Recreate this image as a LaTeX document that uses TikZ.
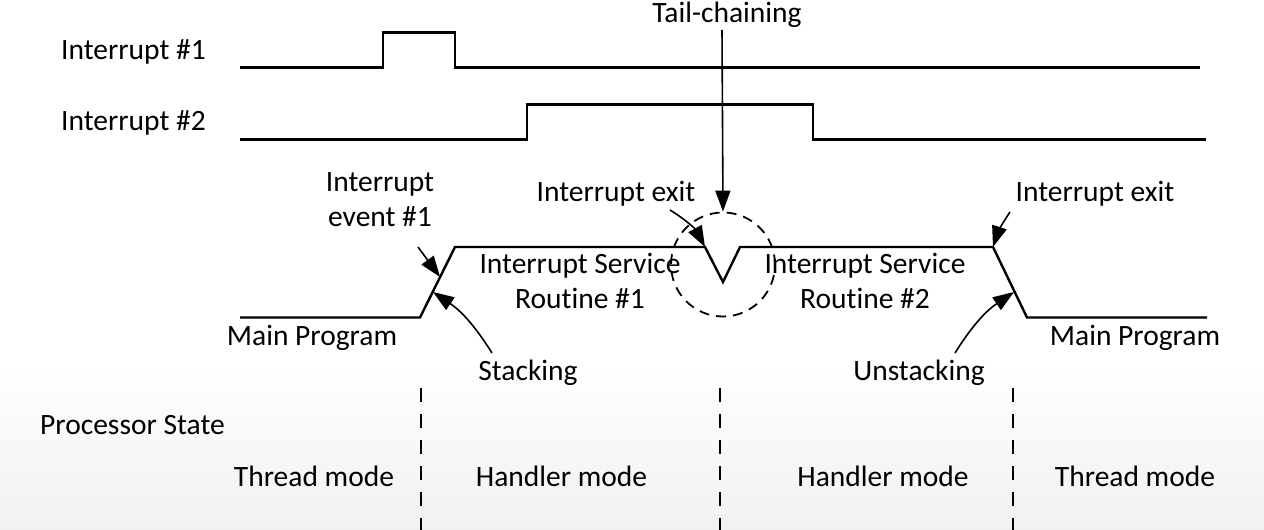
\documentclass[tikz,border=0pt]{standalone}
\usepackage{fontspec}
\setmainfont{Carlito}[Ligatures=NoCommon]
\usetikzlibrary{arrows.meta}
\begin{document}
\begin{tikzpicture}[x=1pt,y=-1pt,
  lbl/.style={inner sep=0pt, anchor=base, font=\fontsize{29.5}{35}\selectfont},
  wave/.style={line width=2.4pt, line join=miter},
  callout/.style={line width=1.6pt, -{Triangle[length=21pt,width=15pt]}},
  sepline/.style={line width=2.6pt, dash pattern=on 14pt off 12pt},
  ring/.style={draw, circle, line width=1.8pt, dash pattern=on 10pt off 7pt, minimum size=104pt, inner sep=0pt}
]
\useasboundingbox (0,0) rectangle (1264,530);
\shade[top color=white, bottom color=gray!11] (0,362) rectangle (1264,530);

% waveforms
\draw[wave] (240,67.5) -- (383,67.5) -- (383,32.5) -- (455,32.5) -- (455,67.5) -- (1200,67.5);
\draw[wave] (240,139.5) -- (527,139.5) -- (527,104.5) -- (813,104.5) -- (813,139.5) -- (1206,139.5);
\draw[wave] (240,317.5) -- (420,317.5) -- (455,247) -- (705,247) -- (723,282) -- (740,247) -- (993,247) -- (1027,317.5) -- (1207,317.5);

% tail-chaining ring
\node[ring] (tc) at (723,264.5) {};

% labels
\node[lbl, anchor=base west] (i1) at (61,59.3) {Interrupt \#1};
\node[lbl, anchor=base west] (i2) at (61,130) {Interrupt \#2};
\node[lbl] (tail) at (727,22) {Tail-chaining};
\node[lbl, align=center] (evt) at (380,226.7) {Interrupt\\event \#1};
\node[lbl] (exit1) at (616,201.7) {Interrupt exit};
\node[lbl] (exit2) at (1095,201.7) {Interrupt exit};
\node[lbl, align=center] (isr1) at (580,308) {Interrupt Service\\Routine \#1};
\node[lbl, align=center] (isr2) at (865,308) {Interrupt Service\\Routine \#2};
\node[lbl] (mp1) at (312,345) {Main Program};
\node[lbl] (mp2) at (1135,345) {Main Program};
\node[lbl] (stk) at (528,380.7) {Stacking};
\node[lbl] (ustk) at (919,380.7) {Unstacking};
\node[lbl, anchor=base west] (ps) at (40,434) {Processor State};
\node[lbl] (tm1) at (314,486.7) {Thread mode};
\node[lbl] (hm1) at (561.5,486.7) {Handler mode};
\node[lbl] (hm2) at (883,486.7) {Handler mode};
\node[lbl] (tm2) at (1135,486.7) {Thread mode};

% arrow anchor points
\coordinate (evstart) at (418,247);
\coordinate (evtip) at (440,277);
\coordinate (stkstart) at (492,353);
\coordinate (stktip) at (433,292);
\coordinate (ex1start) at (670,210);
\coordinate (ex1tip) at (705,247);
\coordinate (ex2start) at (1010,212);
\coordinate (ex2tip) at (993,247);
\coordinate (ustkstart) at (955,353);
\coordinate (ustktip) at (1014,292);
\coordinate (tailstart) at (722,30);

\draw[callout] (tailstart) -- (tc.north);
\draw[callout] (evstart) -- (evtip);
\draw[callout] (stkstart) to[bend right=12] (stktip);
\draw[callout] (ex1start) to[bend left=15] (ex1tip);
\draw[callout] (ex2start) to[bend right=8] (ex2tip);
\draw[callout] (ustkstart) to[bend left=12] (ustktip);

% processor-state separators
\coordinate (s1a) at (421,388); \coordinate (s1b) at (421,530);
\coordinate (s2a) at (720,388); \coordinate (s2b) at (720,530);
\coordinate (s3a) at (1013,388); \coordinate (s3b) at (1013,530);
\draw[sepline] (s1a) -- (s1b);
\draw[sepline] (s2a) -- (s2b);
\draw[sepline] (s3a) -- (s3b);
\end{tikzpicture}
\end{document}
